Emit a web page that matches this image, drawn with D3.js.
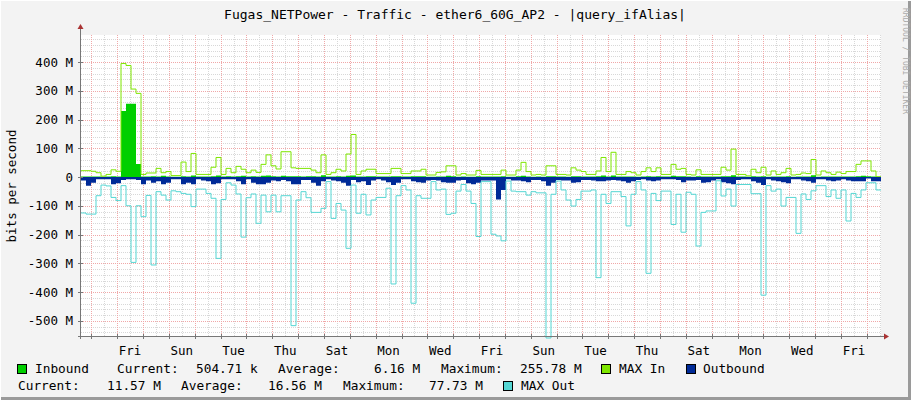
<!DOCTYPE html>
<html><head><meta charset="utf-8">
<script src="https://cdn.jsdelivr.net/npm/d3@7/dist/d3.min.js"></script>
<style>body{margin:0;background:#F3F3F3}text{font-family:"DejaVu Sans Mono",monospace;fill:#000}</style>
</head><body><svg id="c" width="911" height="400"></svg>
<script>
// values in M bits/s, one per 4.64 h step (5 px of the original)
const maxIn = [22,22,20,15,3,9,25,20,395,388,306,291,9,14,14,30,15,19,5,5,52,19,82,9,9,9,34,68,9,30,15,37,27,15,24,16,44,77,39,28,88,88,
32,30,30,30,24,15,77,9,15,27,21,80,148,9,21,27,27,12,12,12,30,30,12,12,21,21,27,7,7,16,18,39,39,7,12,7,7,23,9,9,9,
9,24,7,7,24,51,19,7,9,7,39,39,9,9,7,32,24,19,9,9,21,68,19,86,9,9,19,15,7,19,32,19,32,9,9,44,27,30,9,7,25,
9,9,9,9,34,24,97,9,9,4,27,15,34,7,21,9,15,30,7,9,14,12,61,7,21,15,9,17,12,19,19,44,56,56,21,1];
const maxOut = [-125,-129,-129,-65,-28,-31,-71,-82,-30,-100,-297,-100,-138,-64,-306,-51,-63,-80,-48,-51,-57,-60,-103,-42,-42,-57,-74,-283,-78,-20,-28,-59,-209,-72,-59,-161,-63,-121,-63,-121,-65,-65,
-517,-80,-51,-72,-123,-123,-109,-16,-144,-92,-115,-248,-28,-126,-60,-132,-80,-71,-71,-39,-372,-65,-30,-45,-439,-65,-74,-74,-16,-45,-42,-130,-126,-49,-26,-49,-92,-207,-16,-16,-199,
-205,-222,-14,-49,-51,-51,-63,-51,-55,-55,-560,-60,-14,-45,-80,-101,-78,-49,-49,-45,-350,-60,-92,-51,-51,-68,-170,-60,-16,-45,-335,-57,-82,-49,-49,-165,-60,-192,-53,-60,-240,
-123,-118,-118,-13,-66,-42,-101,-26,-26,-26,-58,-58,-411,-30,-49,-42,-101,-71,-71,-196,-59,-78,-48,-30,-30,-68,-45,-74,-45,-153,-57,-71,-45,-20,-20,-45];
const inbound = [2,2,2,2,1,2,3,2,230,255,255,45,2,2,3,2,4,2,1,1,3,2,5,2,2,2,3,5,2,3,2,3,4,2,3,2,4,5,3,2,4,3,
3,3,2,3,3,2,6,2,2,3,2,4,5,2,2,3,3,2,2,2,3,3,2,2,3,3,3,1,1,2,2,4,3,1,2,1,1,3,2,2,2,
2,3,1,1,3,4,2,1,2,1,3,3,2,2,1,3,3,2,2,2,3,5,2,5,2,2,2,2,1,2,3,2,3,2,2,4,3,3,2,1,3,
2,2,2,2,3,3,6,2,2,1,3,2,3,1,2,2,2,3,1,2,2,2,6,1,2,2,2,2,2,2,2,3,4,3,2,1];
const outbound = [-12,-30,-20,-8,-8,-8,-25,-22,-10,-8,-8,-10,-25,-12,-20,-15,-25,-20,-8,-8,-25,-20,-25,-8,-12,-15,-25,-22,-8,-8,-8,-15,-25,-8,-20,-25,-25,-20,-12,-15,-10,-15,
-25,-25,-10,-10,-20,-30,-15,-8,-12,-15,-20,-30,-10,-18,-15,-28,-12,-8,-12,-18,-28,-20,-8,-8,-15,-18,-20,-12,-10,-12,-18,-20,-20,-12,-10,-22,-25,-20,-12,-12,-12,
-78,-45,-8,-12,-12,-15,-18,-10,-10,-15,-30,-20,-10,-12,-12,-20,-18,-10,-10,-12,-15,-15,-12,-10,-12,-15,-20,-15,-10,-8,-12,-15,-12,-8,-8,-8,-10,-18,-12,-12,-10,
-20,-18,-12,-8,-18,-22,-25,-10,-8,-8,-15,-20,-28,-8,-12,-15,-18,-22,-8,-8,-12,-15,-20,-8,-8,-12,-15,-12,-8,-12,-15,-15,-15,-5,-15,-15];
const yTicks = [400,300,200,100,0,-100,-200,-300,-400,-500];
const dayNames = ["Thu","Fri","Sat","Sun","Mon","Tue","Wed"];

const svg = d3.select("#c");
const X0=81, X1=881, Y0=35, Y1=336;
const pxPerDay = 25.85, stepDays = 5/pxPerDay, t0 = -0.4;
const x = d3.scaleLinear().domain([t0, t0 + (X1-X0)/pxPerDay]).range([X0, X1]);
const y = d3.scaleLinear().domain([-553, 494]).range([Y1, Y0]);

// frame
svg.append("rect").attr("x",0).attr("y",0).attr("width",911).attr("height",400).attr("fill","#F3F3F3");
svg.append("line").attr("x1",0).attr("x2",911).attr("y1",398.5).attr("y2",398.5).attr("stroke","#9a9a9a").attr("stroke-width",3);
svg.append("line").attr("x1",909.5).attr("x2",909.5).attr("y1",0).attr("y2",400).attr("stroke","#9a9a9a").attr("stroke-width",3);
svg.append("line").attr("x1",0.5).attr("x2",0.5).attr("y1",0).attr("y2",400).attr("stroke","#fff");
svg.append("line").attr("x1",0).attr("x2",911).attr("y1",0.5).attr("y2",0.5).attr("stroke","#fff");
svg.append("rect").attr("x",X0).attr("y",Y0).attr("width",X1-X0).attr("height",Y1-Y0).attr("fill","#fff");

const g = svg.append("g");
// minor grid
for (let v=-540; v<=480; v+=20) if (v%100!==0)
  g.append("line").attr("x1",X0).attr("x2",X1).attr("y1",Math.round(y(v))+0.5).attr("y2",Math.round(y(v))+0.5).attr("stroke","#d8d8d8").attr("stroke-dasharray","1,1");
for (let d=-0.5; d<31; d+=1) if (x(d)>X0 && x(d)<X1)
  g.append("line").attr("y1",Y0).attr("y2",Y1).attr("x1",Math.round(x(d))+0.5).attr("x2",Math.round(x(d))+0.5).attr("stroke","#d8d8d8").attr("stroke-dasharray","1,1");
// major grid
yTicks.forEach(v=>g.append("line").attr("x1",X0).attr("x2",X1).attr("y1",Math.round(y(v))+0.5).attr("y2",Math.round(y(v))+0.5).attr("stroke","#f0a8a8").attr("stroke-dasharray","1,1"));
for (let d=0; d<31; d++) if (x(d)<X1)
  g.append("line").attr("y1",Y0).attr("y2",Y1).attr("x1",Math.round(x(d))+0.5).attr("x2",Math.round(x(d))+0.5).attr("stroke","#f0a8a8").attr("stroke-dasharray","1,1");

const pts = arr => arr.concat([arr[arr.length-1]]).map((v,i)=>[t0+i*stepDays, v]);
const area = d3.area().x(d=>x(d[0])).y0(y(0)).y1(d=>y(d[1])).curve(d3.curveStepAfter);
const line = d3.line().x(d=>x(d[0])).y(d=>y(d[1])).curve(d3.curveStepAfter);

svg.append("path").datum(pts(inbound)).attr("d",area).attr("fill","#00CF00");
svg.append("path").datum(pts(maxIn)).attr("d",line).attr("fill","none").attr("stroke","#7EE600").attr("stroke-width",1);
svg.append("path").datum(pts(outbound)).attr("d",area).attr("fill","#002A97");
svg.append("path").datum(pts(maxOut)).attr("d",line).attr("fill","none").attr("stroke","#55D6D3").attr("stroke-width",1);

// axes
svg.append("line").attr("x1",X0-0.5).attr("x2",X0-0.5).attr("y1",Y1+3).attr("y2",Y0-6).attr("stroke","#777");
svg.append("line").attr("x1",X0-3).attr("x2",X1+3).attr("y1",Y1+0.5).attr("y2",Y1+0.5).attr("stroke","#777");
svg.append("path").attr("d",`M${X0-3.5},${Y0-6}L${X0+2.5},${Y0-6}L${X0-0.5},${Y0-11}Z`).attr("fill","#a33");
svg.append("path").attr("d",`M${X1+3},${Y1-2.5}L${X1+3},${Y1+3.5}L${X1+8},${Y1+0.5}Z`).attr("fill","#a33");
yTicks.forEach(v=>{
  svg.append("line").attr("x1",X0-3).attr("x2",X0+2).attr("y1",Math.round(y(v))+0.5).attr("y2",Math.round(y(v))+0.5).attr("stroke","#777");
  svg.append("text").attr("x",73).attr("y",y(v)+4.5).attr("text-anchor","end").attr("font-size",12.5)
    .text(v===0?"0":v+" M");
});
for (let d=0; d<31; d++) if (x(d)<X1)
  svg.append("line").attr("x1",Math.round(x(d))+0.5).attr("x2",Math.round(x(d))+0.5).attr("y1",Y1-2).attr("y2",Y1+3).attr("stroke","#777");
for (let d=1; d<31; d+=2) if (x(d+0.5)<X1)
  svg.append("text").attr("x",x(d+0.5)).attr("y",355).attr("text-anchor","middle").attr("font-size",12.5).text(dayNames[d%7]);

svg.append("text").attr("x",455).attr("y",19).attr("text-anchor","middle").attr("font-size",13).text("Fugas_NETPower - Traffic - ether6_60G_AP2 - |query_ifAlias|");
svg.append("text").attr("transform","translate(16,186) rotate(-90)").attr("text-anchor","middle").attr("font-size",12.5).text("bits per second");
svg.append("text").attr("transform","translate(903,8) rotate(90)").attr("font-size",8).style("fill","#aaa").text("RRDTOOL / TOBI OETIKER");

// legend
const L = (xx,yy,t)=>svg.append("text").attr("x",xx).attr("y",yy).attr("font-size",12.8).attr("xml:space","preserve").text(t);
const B = (xx,yy,c)=>svg.append("rect").attr("x",xx+0.5).attr("y",yy+0.5).attr("width",9).attr("height",9).attr("fill",c).attr("stroke","#000");
B(17,364,"#00CF00"); L(35,373,"Inbound"); L(117,373,"Current:"); L(196,373,"504.71 k"); L(278,373,"Average:"); L(374,373,"6.16 M"); L(441,373,"Maximum:"); L(520,373,"255.78 M");
B(601,364,"#7EE600"); L(619,373,"MAX In"); B(686,364,"#002A97"); L(703,373,"Outbound");
L(18,390,"Current:"); L(107,390,"11.57 M"); L(181,390,"Average:"); L(268,390,"16.56 M"); L(343,390,"Maximum:"); L(429,390,"77.73 M");
B(503,381,"#55D6D3"); L(521,390,"MAX Out");
</script></body></html>
